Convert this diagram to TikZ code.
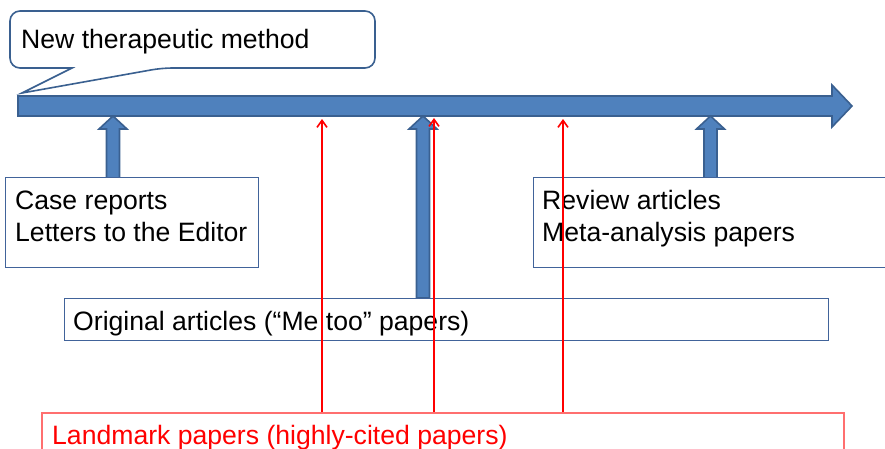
\documentclass[tikz,border=0pt]{standalone}
\usepackage{fontspec}
\setmainfont{Liberation Sans}
\usetikzlibrary{arrows.meta}
\definecolor{bfill}{HTML}{4F81BD}
\definecolor{bline}{HTML}{3A6090}
\definecolor{boxline}{HTML}{41639A}
\definecolor{lmframe}{HTML}{FF6F6F}
\newcommand\blkup[3]{% x, tip y, bottom y
  \draw[blockarrow] (#1-6.5,#3) -- (#1-6.5,#2+13) -- (#1-14,#2+13) -- (#1,#2)
    -- (#1+14,#2+13) -- (#1+6.5,#2+13) -- (#1+6.5,#3) -- cycle;}
\begin{document}
\begin{tikzpicture}[x=1pt,y=-1pt,
  txt/.style={anchor=base west, inner sep=0pt, font=\fontsize{26.6}{32}\selectfont},
  frame/.style={draw=boxline, line width=1.1pt, fill=white, anchor=north west, inner sep=0pt},
  blockarrow/.style={fill=bfill, draw=bline, line width=1.6pt, line join=miter},
  redarrow/.style={draw=red, line width=1.6pt, -{Straight Barb[length=7pt,width=10pt,line width=1.6pt]}}]
\useasboundingbox (0,0) rectangle (885,448);

% callout
\draw[draw=bline, line width=1.6pt, fill=white, rounded corners=10pt]
  (72,68) -- (10,68) -- (10,11) -- (375,11) -- (375,68) -- (162,68) [sharp corners] -- (22,93) -- cycle;
\node[txt] (newm) at (21,48) {New therapeutic method};

% main arrow
\draw[blockarrow] (18,96) -- (832,96) -- (832,85) -- (852,106) -- (832,127) -- (832,116) -- (18,116) -- cycle;

% block arrows
\blkup{113}{116}{178}
\blkup{423}{116}{298}
\blkup{710.5}{116}{178}

% boxes
\node[frame, minimum width=253pt, minimum height=90pt] (case) at (5,177) {};
\node[frame, minimum width=352pt, minimum height=90pt] (review) at (533,177) {};
\node[frame, minimum width=764pt, minimum height=42pt] (orig) at (64,298) {};
\node[draw=lmframe, line width=1.5pt, fill=white, anchor=north west, inner sep=0pt,
      minimum width=802pt, minimum height=50pt] (land) at (41,412) {};

% texts
\node[txt] (t1) at (15,209) {Case reports};
\node[txt] (t2) at (15,241) {Letters to the Editor};
\node[txt] (t3) at (542,209) {Review articles};
\node[txt] (t4) at (542,241) {Meta-analysis papers};
\node[txt] (t5) at (73,330) {Original articles (“Me too” papers)};
\node[txt, text=red] (t6) at (52,444) {Landmark papers (highly-cited papers)};

% red arrows
\coordinate (r1) at (322,119);
\coordinate (r2) at (434,118);
\coordinate (r3) at (563,119);
\draw[redarrow] (r1 |- land.north) -- (r1);
\draw[redarrow] (r2 |- land.north) -- (r2);
\draw[redarrow] (r3 |- land.north) -- (r3);
\end{tikzpicture}
\end{document}
